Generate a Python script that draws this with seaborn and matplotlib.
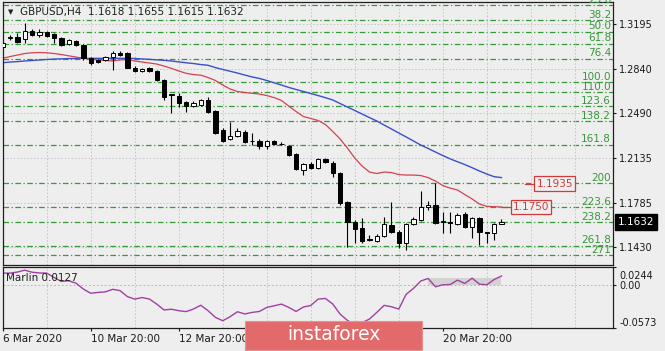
import matplotlib
matplotlib.use("Agg")
import matplotlib.pyplot as plt
import matplotlib.transforms as mtransforms
import seaborn as sns
import pandas as pd
import numpy as np
from matplotlib.patches import Rectangle

# GBPUSD H4 candles, one value per bar (6 Mar 20:00 .. 24 Mar 04:00)
opens = [1.3016, 1.3088, 1.3090, 1.3074, 1.3140, 1.3108, 1.3129, 1.3113, 1.3082, 1.3035,
         1.3063, 1.3029, 1.2924, 1.2911, 1.2911, 1.2937, 1.2963, 1.2963, 1.2850, 1.2826,
         1.2845, 1.2826, 1.2753, 1.2633, 1.2626, 1.2577, 1.2547, 1.2555, 1.2595, 1.2510,
         1.2358, 1.2286, 1.2310, 1.2344, 1.2268, 1.2271, 1.2231, 1.2271, 1.2247, 1.2231,
         1.2166, 1.2042, 1.2087, 1.2055, 1.2126, 1.2099, 1.2015, 1.1791, 1.1628, 1.1581,
         1.1493, 1.1483, 1.1520, 1.1607, 1.1554, 1.1462, 1.1615, 1.1647, 1.1748, 1.1765,
         1.1633, 1.1633, 1.1615, 1.1692, 1.1594, 1.1660, 1.1549, 1.1541, 1.1618]
highs = [1.3055, 1.3108, 1.3121, 1.3200, 1.3153, 1.3153, 1.3140, 1.3121, 1.3090, 1.3075,
         1.3071, 1.3040, 1.2935, 1.2920, 1.2945, 1.2984, 1.2982, 1.2976, 1.2860, 1.2850,
         1.2855, 1.2830, 1.2758, 1.2645, 1.2648, 1.2585, 1.2590, 1.2605, 1.2621, 1.2516,
         1.2370, 1.2423, 1.2375, 1.2360, 1.2331, 1.2285, 1.2280, 1.2280, 1.2265, 1.2240,
         1.2175, 1.2095, 1.2105, 1.2133, 1.2135, 1.2110, 1.2025, 1.1800, 1.1645, 1.1660,
         1.1528, 1.1536, 1.1673, 1.1791, 1.1565, 1.1623, 1.1667, 1.1876, 1.1799, 1.1937,
         1.1712, 1.1712, 1.1699, 1.1712, 1.1673, 1.1673, 1.1555, 1.1621, 1.1655]
lows = [1.3011, 1.3069, 1.3047, 1.3043, 1.3100, 1.3095, 1.3095, 1.3043, 1.3020, 1.3030,
        1.3025, 1.2911, 1.2874, 1.2890, 1.2905, 1.2832, 1.2940, 1.2845, 1.2818, 1.2818,
        1.2818, 1.2748, 1.2595, 1.2490, 1.2542, 1.2502, 1.2540, 1.2550, 1.2492, 1.2326,
        1.2263, 1.2279, 1.2300, 1.2255, 1.2239, 1.2205, 1.2205, 1.2240, 1.2240, 1.2150,
        1.2040, 1.2002, 1.2048, 1.2050, 1.2100, 1.1989, 1.1765, 1.1436, 1.1462, 1.1462,
        1.1480, 1.1475, 1.1510, 1.1545, 1.1428, 1.1409, 1.1610, 1.1640, 1.1725, 1.1615,
        1.1546, 1.1541, 1.1607, 1.1581, 1.1502, 1.1449, 1.1462, 1.1488, 1.1615]
closes = [1.3047, 1.3092, 1.3055, 1.3142, 1.3108, 1.3134, 1.3103, 1.3087, 1.3029, 1.3069,
          1.3031, 1.2924, 1.2885, 1.2898, 1.2932, 1.2968, 1.2950, 1.2850, 1.2826, 1.2839,
          1.2824, 1.2753, 1.2621, 1.2640, 1.2574, 1.2547, 1.2569, 1.2595, 1.2502, 1.2336,
          1.2271, 1.2310, 1.2352, 1.2265, 1.2274, 1.2231, 1.2271, 1.2245, 1.2245, 1.2160,
          1.2047, 1.2087, 1.2055, 1.2126, 1.2107, 1.2015, 1.1783, 1.1633, 1.1575, 1.1483,
          1.1490, 1.1520, 1.1615, 1.1554, 1.1462, 1.1615, 1.1652, 1.1752, 1.1765, 1.1621,
          1.1636, 1.1621, 1.1686, 1.1594, 1.1660, 1.1549, 1.1541, 1.1615, 1.1632]

# moving averages (red = fast, blue = slow)
ma_fast = [1.2924, 1.2938, 1.2950, 1.2962, 1.2968, 1.2970, 1.2968, 1.2962, 1.2954, 1.2944,
           1.2934, 1.2924, 1.2917, 1.2911, 1.2907, 1.2903, 1.2911, 1.2916, 1.2903, 1.2895,
           1.2887, 1.2879, 1.2863, 1.2845, 1.2824, 1.2806, 1.2796, 1.2791, 1.2772, 1.2749,
           1.2713, 1.2682, 1.2662, 1.2654, 1.2648, 1.2642, 1.2630, 1.2614, 1.2591, 1.2547,
           1.2504, 1.2464, 1.2449, 1.2433, 1.2401, 1.2346, 1.2287, 1.2215, 1.2136, 1.2073,
           1.2026, 1.2014, 1.2026, 1.2022, 1.2006, 1.2002, 1.2002, 1.1998, 1.1982, 1.1955,
           1.1919, 1.1899, 1.1884, 1.1848, 1.1813, 1.1773, 1.1755, 1.1752, 1.1750]
ma_slow = [1.2889, 1.2895, 1.2898, 1.2903, 1.2907, 1.2911, 1.2915, 1.2918, 1.2920, 1.2922,
           1.2923, 1.2924, 1.2924, 1.2924, 1.2924, 1.2924, 1.2924, 1.2924, 1.2923, 1.2919,
           1.2916, 1.2912, 1.2908, 1.2903, 1.2896, 1.2889, 1.2883, 1.2875, 1.2869, 1.2851,
           1.2836, 1.2822, 1.2808, 1.2792, 1.2777, 1.2765, 1.2749, 1.2731, 1.2713, 1.2694,
           1.2678, 1.2662, 1.2646, 1.2630, 1.2613, 1.2595, 1.2567, 1.2539, 1.2512, 1.2484,
           1.2456, 1.2429, 1.2397, 1.2366, 1.2334, 1.2303, 1.2271, 1.2239, 1.2212, 1.2184,
           1.2156, 1.2130, 1.2107, 1.2085, 1.2060, 1.2034, 1.2010, 1.1989, 1.1982]

# Marlin oscillator
marlin = [0.0166, 0.0166, 0.0180, 0.0206, 0.0178, 0.0168, 0.0166, 0.0108, 0.0054, 0.0063,
          0.0030, -0.0049, -0.0105, -0.0094, -0.0086, -0.0052, -0.0070, -0.0150, -0.0184, -0.0163,
          -0.0183, -0.0251, -0.0330, -0.0320, -0.0340, -0.0352, -0.0318, -0.0266, -0.0340, -0.0430,
          -0.0475, -0.0421, -0.0354, -0.0384, -0.0363, -0.0350, -0.0296, -0.0274, -0.0251, -0.0296,
          -0.0350, -0.0290, -0.0270, -0.0184, -0.0175, -0.0250, -0.0386, -0.0470, -0.0530, -0.0500,
          -0.0453, -0.0363, -0.0268, -0.0287, -0.0318, -0.0120, -0.0040, 0.0060, 0.0094, -0.0018,
          0.0009, 0.0012, 0.0072, 0.0027, 0.0098, 0.0018, 0.0009, 0.0080, 0.0127]
band_from, band_to, band_level = 58, 68, 0.0098

# Fibonacci grid
fib_0, fib_100 = 1.3532, 1.2734
fib_ratios = [23.6, 38.2, 50.0, 61.8, 76.4, 100.0, 110.0, 123.6, 138.2, 161.8, 200.0, 223.6, 238.2, 261.8, 271.0]
fib_labels = ["23.6", "38.2", "50.0", "61.8", "76.4", "100.0", "110.0", "123.6", "138.2",
              "161.8", "200", "223.6", "238.2", "261.8", "271"]
targets = [1.1935, 1.1750]
target_labels = ["1.1935", "1.1750"]

price_ticks = [1.3195, 1.2840, 1.2490, 1.2135, 1.1785, 1.1430]
marlin_ticks = [0.0244, 0.0, -0.0573]
marlin_tick_labels = ["0.0244", "0.00", "-0.0573"]
time_pos = [0, 12, 24, 60]
time_labels = ["6 Mar 2020", "10 Mar 20:00", "12 Mar 20:00", "20 Mar 20:00"]
title = "GBPUSD,H4  1.1618 1.1655 1.1615 1.1632"
last_price = "1.1632"

plt.rcParams['font.family'] = ['DejaVu Sans']
plt.rcParams['font.size'] = 7

bg = '#eeeeee'
fib_green = '#37983a'
df = pd.DataFrame({'open': opens, 'high': highs, 'low': lows, 'close': closes,
                   'ma_fast': ma_fast, 'ma_slow': ma_slow, 'marlin': marlin})
df['bar'] = np.arange(len(df))

fig = plt.figure(figsize=(6.65, 3.51), dpi=100, facecolor=bg)
ax = fig.add_axes([0.00406, 0.2459, 0.9177, 0.7484], facecolor=bg)
ax2 = fig.add_axes([0.00406, 0.0655, 0.9177, 0.1729], facecolor=bg)

xmax = 83.2
for a in (ax, ax2):
    a.set_xlim(0, xmax)
    a.set_xticks(np.arange(6, xmax, 6), minor=True)
    a.grid(True, which='minor', axis='x', color='#c4c4c4', ls=(0, (1.5, 2)), lw=0.7)
    for s in a.spines.values():
        s.set_color('#202020')
        s.set_linewidth(0.9)
    a.yaxis.tick_right()
    a.tick_params(axis='y', length=2.5, pad=2, colors='#1a1a1a', labelsize=7)
    a.tick_params(axis='x', which='minor', length=0)

# main price panel
ax.set_ylim(1.1294, 1.3369)
ax.set_yticks(price_ticks)
ax.set_yticklabels([f"{p:.4f}" for p in price_ticks])
ax.set_xticks([])
for p in price_ticks:
    ax.axhline(p, color='#c4c4c4', ls=(0, (1.5, 2)), lw=0.7, zorder=0)

for r, lab in zip(fib_ratios, fib_labels):
    lvl = fib_0 - (fib_0 - fib_100) * r / 100.0
    ax.axhline(lvl, color=fib_green, lw=0.9, ls=(0, (4.5, 2, 1, 2)), zorder=1)
    t = ax.annotate(lab, xy=(0.997, lvl), xycoords=('axes fraction', 'data'),
                    xytext=(0, 0.3), textcoords='offset points', ha='right', va='bottom',
                    color=fib_green, fontsize=7.5)
    t.set_clip_on(True)

sns.lineplot(data=df, x='bar', y='ma_slow', color='#3a4fc9', lw=1, ax=ax, zorder=2)
sns.lineplot(data=df, x='bar', y='ma_fast', color='#d2434f', lw=0.9, ax=ax, zorder=2)

up = df['close'] >= df['open']
ax.vlines(df['bar'], df['low'], df['high'], color='black', lw=0.8, zorder=3)
body_low = np.minimum(df['open'], df['close'])
body_h = (df['close'] - df['open']).abs()
ax.bar(df['bar'], body_h, bottom=body_low, width=0.6,
       color=np.where(up, 'white', 'black'), edgecolor='black', lw=0.7, zorder=4)

for i, (val, lab) in enumerate(zip(targets, target_labels)):
    x0 = len(df) - 1 + (3.2 if i == 0 else 0.0)
    ax.plot([x0, x0 + 1.5], [val, val], color='#d03a3a', lw=0.9, zorder=3)
    ax.text(x0 + 1.55, val, lab, color='#d03a3a', fontsize=7.5, ha='left', va='center',
            bbox=dict(boxstyle='square,pad=0.2', fc=bg, ec='#d03a3a', lw=0.9), zorder=5)

ax.annotate(last_price, xy=(1.0, 1.1632), xycoords=('axes fraction', 'data'),
            xytext=(3.5, 0), textcoords='offset points', ha='left', va='center',
            color='white', fontsize=7.5, annotation_clip=False,
            bbox=dict(boxstyle='square,pad=0.25', fc='black', ec='black'))
ax.set_xlabel('')
ax.set_ylabel('')

# Marlin panel
ax2.set_ylim(-0.0573, 0.0244)
ax2.axhline(0, color='#b8b8b8', ls=(0, (2, 2)), lw=0.7, zorder=0)
ax2.fill_between([band_from, band_to], [0, 0], [band_level, band_level], color='#d3d3d3', lw=0, zorder=1)
sns.lineplot(data=df, x='bar', y='marlin', color='#a13fa3', lw=1, ax=ax2, zorder=2)
ax2.set_yticks(marlin_ticks)
ax2.set_yticklabels(marlin_tick_labels)
ylabs = ax2.get_yticklabels()
ylabs[0].set_va('top')
ylabs[0].set_transform(ylabs[0].get_transform() +
                       mtransforms.ScaledTranslation(0, -3 / 72, fig.dpi_scale_trans))
ylabs[2].set_va('bottom')
ax2.set_xticks(time_pos)
ax2.set_xticklabels(time_labels, ha='left')
ax2.tick_params(axis='x', which='major', length=2.5, pad=2, colors='#1a1a1a', labelsize=7.5)
ax2.set_xlabel('')
ax2.set_ylabel('')
ax2.text(0.006, 0.82, "Marlin 0.0127", transform=ax2.transAxes, ha='left', va='center',
         color='#202020', fontsize=7.5)

fig.text(10.5 / 665, 1 - 12 / 351, "\u25bc", ha='center', va='center', fontsize=5, color='#202020')
fig.text(20 / 665, 1 - 12 / 351, title, ha='left', va='center', fontsize=7.5, color='#202020')

# instaforex badge
fig.patches.append(Rectangle((245 / 665, 1.5 / 351), 177 / 665, 29 / 351, transform=fig.transFigure,
                             facecolor='#e26a6a', edgecolor='#e89090', lw=0.8, zorder=10))
fig.text(333.5 / 665, 16 / 351, "instaforex", ha='center', va='center', color='white',
         fontsize=13.5, zorder=11)

plt.savefig('out.png', dpi=100, facecolor=bg)
plt.close()
